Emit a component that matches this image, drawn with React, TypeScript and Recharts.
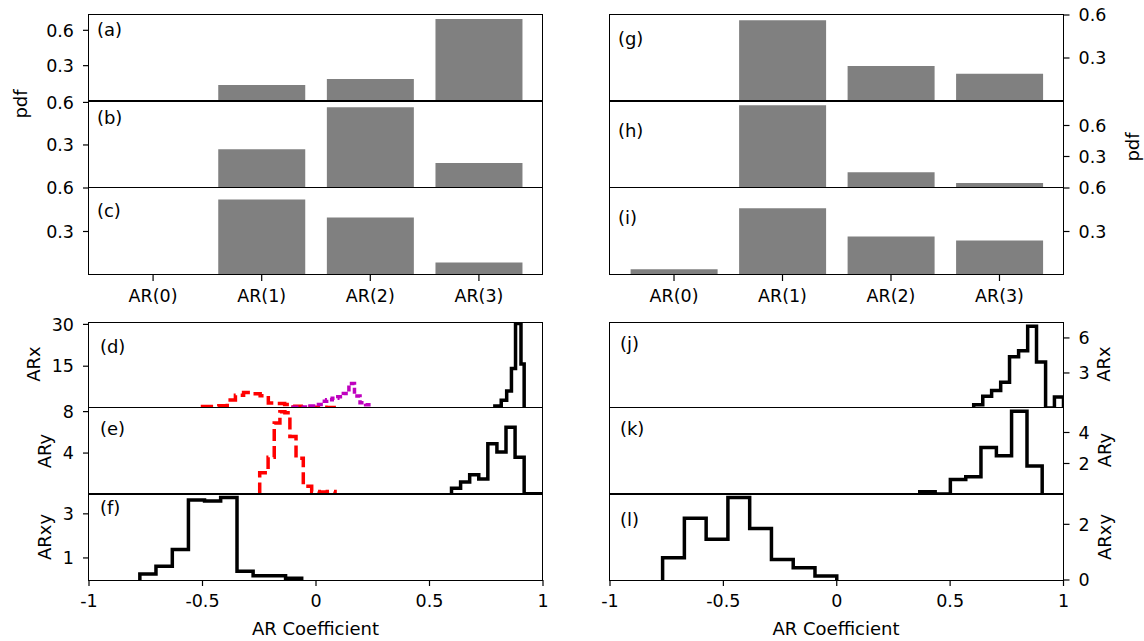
import React from 'react';
import { BarChart, Bar, LineChart, Line, XAxis, YAxis } from 'recharts';

const FONT = "'DejaVu Sans', sans-serif";
const TICK_FS = 17.5;
const LABEL_FS = 18;

// ---------------- data ----------------
const categories = ['AR(0)', 'AR(1)', 'AR(2)', 'AR(3)'];
const pdfA = [0, 0.136, 0.187, 0.696];
const pdfB = [0, 0.269, 0.566, 0.173];
const pdfC = [0, 0.52, 0.397, 0.086];
const pdfG = [0, 0.563, 0.244, 0.19];
const pdfH = [0, 0.796, 0.147, 0.044];
const pdfI = [0.04, 0.461, 0.266, 0.238];
const pdfTicks = [0.3, 0.6];

const coefTicks = [-1, -0.5, 0, 0.5, 1];

// (d) ARx, left
const dBlackEdges = [0.788, 0.816, 0.84, 0.861, 0.879, 0.903, 0.917];
const dBlackVals = [0.7, 2.8, 6.1, 14.2, 30.3, 15.8];
const dRedEdges = [-0.5, -0.464, -0.428, -0.391, -0.355, -0.319, -0.283, -0.246, -0.21, -0.174, -0.138, -0.101, -0.065, -0.029, 0.007, 0.044, 0.08];
const dRedVals = [0.5, 0.5, 0.8, 2.9, 4.6, 5.6, 5.1, 4.4, 1.8, 1.6, 1.3, 0.6, 0.4, 0.3, 0.3, 0.2];
const dMagEdges = [-0.1, -0.0755, -0.051, -0.0265, -0.002, 0.0225, 0.047, 0.0715, 0.096, 0.1205, 0.145, 0.1695, 0.194, 0.2185, 0.243];
const dMagVals = [0.3, 0.3, 0.4, 0.7, 1.3, 2.4, 3.0, 3.5, 4.0, 5.2, 8.8, 4.3, 1.9, 1.2];
const dTicks = [15, 30];

// (e) ARy, left
const eBlackEdges = [0.597, 0.637, 0.677, 0.717, 0.757, 0.797, 0.837, 0.877, 0.917, 0.957, 0.997, 1.037];
const eBlackVals = [0.6, 1.2, 1.9, 1.5, 4.9, 4.1, 6.5, 3.6, 0.08, 0.08, 0.08];
const eRedEdges = [-0.248, -0.211, -0.184, -0.159, -0.137, -0.115, -0.088, -0.056, -0.019, 0.014, 0.05, 0.084];
const eRedVals = [2.1, 3.6, 6.9, 8.0, 7.9, 5.6, 3.5, 0.8, 0.3, 0.25, 0.3];
const eTicks = [4, 8];

// (f) ARxy, left
const fEdges = [-0.776, -0.705, -0.633, -0.562, -0.491, -0.42, -0.348, -0.277, -0.206, -0.134, -0.063];
const fVals = [0.27, 0.62, 1.38, 3.63, 3.58, 3.74, 0.4, 0.19, 0.19, 0.08];
const fTicks = [1, 3];

// (j) ARx, right
const jEdges = [0.604, 0.644, 0.683, 0.723, 0.762, 0.802, 0.842, 0.881, 0.921, 0.96, 1.0];
const jVals = [0.28, 1.0, 1.5, 2.2, 4.4, 4.9, 7.0, 3.94, 0, 0.94];
const jTicks = [3, 6];

// (k) ARy, right
const kEdges = [0.366, 0.434, 0.501, 0.569, 0.636, 0.704, 0.771, 0.839, 0.906];
const kVals = [0.17, 0.03, 0.97, 1.15, 3.03, 2.5, 5.37, 1.84];
const kTicks = [2, 4];

// (l) ARxy, right
const lEdges = [-0.768, -0.672, -0.576, -0.48, -0.384, -0.288, -0.192, -0.096, 0.0];
const lVals = [0.8, 2.22, 1.46, 2.96, 1.85, 0.74, 0.44, 0.14];
const lTicks = [0, 2];

// ---------------- layout ----------------
type Col = 'L' | 'R';
const COLS: Record<Col, { x: number; w: number }> = {
  L: { x: 88.5, w: 454 },
  R: { x: 609.5, w: 453.5 },
};
const TOP_ROWS = [
  { y: 15, h: 86 },
  { y: 101, h: 86.5 },
  { y: 187.5, h: 87 },
];
const BOT_ROWS = [
  { y: 322.5, h: 85 },
  { y: 407.5, h: 86.5 },
  { y: 494, h: 86 },
];

const PAD_L = 80;
const PAD_R = 80;
const PAD_T = 22;
const PAD_B = 48;
const YW = 70;
const XH = 40;

const TICK_SIZE = 6;
const TICK_MARGIN = 9;
const LINE_W = 3.5;

function margins(col: Col) {
  return col === 'L'
    ? { top: PAD_T, bottom: PAD_B - XH, left: PAD_L - YW, right: PAD_R }
    : { top: PAD_T, bottom: PAD_B - XH, left: PAD_L, right: PAD_R - YW };
}

const tickStyle = { fill: '#000', fontSize: TICK_FS, fontFamily: FONT };
const tickLineStyle = { stroke: '#000', strokeWidth: 1.2 };

function Wrap({ x, y, w, h, children }: any) {
  return (
    <div
      style={{
        position: 'absolute',
        left: x - PAD_L,
        top: y - PAD_T,
        width: w + PAD_L + PAD_R,
        height: h + PAD_T + PAD_B,
      }}
    >
      {children}
    </div>
  );
}

function stepPoints(edges: number[], vals: number[]) {
  const pts: { x: number; y: number }[] = [{ x: edges[0], y: 0 }];
  vals.forEach((v, i) => pts.push({ x: edges[i], y: v }));
  pts.push({ x: edges[edges.length - 1], y: 0 });
  return pts;
}

function BarPanel({ col, row, values, yMax, showX }: { col: Col; row: number; values: number[]; yMax: number; showX?: boolean }) {
  const c = COLS[col];
  const r = TOP_ROWS[row];
  const data = categories.map((cat, i) => ({ cat, v: values[i] }));
  // matplotlib xlim [-0.59, 3.59] -> 4.18 units
  const unit = c.w / 4.18;
  const pad = 0.09 * unit;
  return (
    <Wrap x={c.x} y={r.y} w={c.w} h={r.h}>
      <BarChart width={c.w + PAD_L + PAD_R} height={r.h + PAD_T + PAD_B} data={data} margin={margins(col)} barCategoryGap="10%">
        <XAxis
          dataKey="cat"
          type="category"
          padding={{ left: pad, right: pad }}
          height={XH}
          axisLine={false}
          tickLine={showX ? tickLineStyle : false}
          tick={showX ? tickStyle : false}
          tickSize={TICK_SIZE}
          tickMargin={TICK_MARGIN}
          interval={0}
        />
        <YAxis
          type="number"
          orientation={col === 'L' ? 'left' : 'right'}
          domain={[0, yMax]}
          ticks={pdfTicks}
          allowDataOverflow
          width={YW}
          axisLine={false}
          tickLine={tickLineStyle}
          tick={tickStyle}
          tickSize={TICK_SIZE}
          tickMargin={TICK_MARGIN}
          interval={0}
        />
        <Bar dataKey="v" fill="#808080" isAnimationActive={false} />
      </BarChart>
    </Wrap>
  );
}

type Series = { pts: { x: number; y: number }[]; color: string; dash?: string; key: string };

function HistPanel({ col, row, series, yMax, yTicks, showX }: { col: Col; row: number; series: Series[]; yMax: number; yTicks: number[]; showX?: boolean }) {
  const c = COLS[col];
  const r = BOT_ROWS[row];
  return (
    <Wrap x={c.x} y={r.y} w={c.w} h={r.h}>
      <LineChart width={c.w + PAD_L + PAD_R} height={r.h + PAD_T + PAD_B} margin={margins(col)}>
        <XAxis
          dataKey="x"
          type="number"
          domain={[-1, 1]}
          ticks={coefTicks}
          allowDataOverflow
          height={XH}
          axisLine={false}
          tickLine={showX ? tickLineStyle : false}
          tick={showX ? tickStyle : false}
          tickSize={TICK_SIZE}
          tickMargin={TICK_MARGIN}
          interval={0}
        />
        <YAxis
          type="number"
          orientation={col === 'L' ? 'left' : 'right'}
          domain={[0, yMax]}
          ticks={yTicks}
          allowDataOverflow
          width={YW}
          axisLine={false}
          tickLine={tickLineStyle}
          tick={tickStyle}
          tickSize={TICK_SIZE}
          tickMargin={TICK_MARGIN}
          interval={0}
        />
        {series.map((s) => (
          <Line
            key={s.key}
            data={s.pts}
            dataKey="y"
            type="stepAfter"
            stroke={s.color}
            strokeWidth={LINE_W}
            strokeDasharray={s.dash}
            strokeLinejoin="miter"
            dot={false}
            activeDot={false}
            isAnimationActive={false}
          />
        ))}
      </LineChart>
    </Wrap>
  );
}

function Frame({ col, r }: { col: Col; r: { y: number; h: number } }) {
  const c = COLS[col];
  return (
    <div
      style={{
        position: 'absolute',
        left: c.x - 0.75,
        top: r.y - 0.75,
        width: c.w + 1.5,
        height: r.h + 1.5,
        border: '1.5px solid #000',
        boxSizing: 'border-box',
        pointerEvents: 'none',
      }}
    />
  );
}

// text whose visible centre (parentheses) is at cy, starting at visible x
function Letter({ x, cy, text }: { x: number; cy: number; text: string }) {
  return (
    <div
      style={{
        position: 'absolute',
        left: x - 1.6,
        top: cy - 9.5,
        fontSize: LABEL_FS,
        lineHeight: `${LABEL_FS}px`,
        whiteSpace: 'nowrap',
        color: '#000',
      }}
    >
      {text}
    </div>
  );
}

function XLabel({ cx, baseline, text }: { cx: number; baseline: number; text: string }) {
  return (
    <div
      style={{
        position: 'absolute',
        left: cx,
        top: baseline - 15.2,
        transform: 'translateX(-50%)',
        fontSize: LABEL_FS,
        lineHeight: `${LABEL_FS}px`,
        whiteSpace: 'nowrap',
        color: '#000',
      }}
    >
      {text}
    </div>
  );
}

function YLabel({ cx, cy, text }: { cx: number; cy: number; text: string }) {
  return (
    <div
      style={{
        position: 'absolute',
        left: cx,
        top: cy,
        transform: 'translate(-50%, -50%) rotate(-90deg)',
        fontSize: LABEL_FS,
        lineHeight: `${LABEL_FS}px`,
        whiteSpace: 'nowrap',
        color: '#000',
      }}
    >
      {text}
    </div>
  );
}

const RED = '#ff0000';
const MAG = '#bf00bf';
const BLK = '#000000';
const RED_DASH = '12 5';
const MAG_DASH = '6 3';

export default function App() {
  const dSeries: Series[] = [
    { key: 'dRed', pts: stepPoints(dRedEdges, dRedVals), color: RED, dash: RED_DASH },
    { key: 'dMag', pts: stepPoints(dMagEdges, dMagVals), color: MAG, dash: MAG_DASH },
    { key: 'dBlk', pts: stepPoints(dBlackEdges, dBlackVals), color: BLK },
  ];
  const eSeries: Series[] = [
    { key: 'eRed', pts: stepPoints(eRedEdges, eRedVals), color: RED, dash: RED_DASH },
    { key: 'eBlk', pts: stepPoints(eBlackEdges, eBlackVals), color: BLK },
  ];
  const fSeries: Series[] = [{ key: 'f', pts: stepPoints(fEdges, fVals), color: BLK }];
  const jSeries: Series[] = [{ key: 'j', pts: stepPoints(jEdges, jVals), color: BLK }];
  const kSeries: Series[] = [{ key: 'k', pts: stepPoints(kEdges, kVals), color: BLK }];
  const lSeries: Series[] = [{ key: 'l', pts: stepPoints(lEdges, lVals), color: BLK }];

  return (
    <div
      style={{
        position: 'absolute',
        left: 0,
        top: 0,
        width: 1144,
        height: 641,
        background: '#fff',
        fontFamily: FONT,
        overflow: 'hidden',
      }}
    >
      <BarPanel col="L" row={0} values={pdfA} yMax={0.73} />
      <BarPanel col="L" row={1} values={pdfB} yMax={0.61} />
      <BarPanel col="L" row={2} values={pdfC} yMax={0.6} showX />
      <BarPanel col="R" row={0} values={pdfG} yMax={0.6} />
      <BarPanel col="R" row={1} values={pdfH} yMax={0.837} />
      <BarPanel col="R" row={2} values={pdfI} yMax={0.6} showX />

      <HistPanel col="L" row={0} series={dSeries} yMax={30.5} yTicks={dTicks} />
      <HistPanel col="L" row={1} series={eSeries} yMax={8.35} yTicks={eTicks} />
      <HistPanel col="L" row={2} series={fSeries} yMax={3.9} yTicks={fTicks} showX />
      <HistPanel col="R" row={0} series={jSeries} yMax={7.28} yTicks={jTicks} />
      <HistPanel col="R" row={1} series={kSeries} yMax={5.58} yTicks={kTicks} />
      <HistPanel col="R" row={2} series={lSeries} yMax={3.09} yTicks={lTicks} showX />

      {TOP_ROWS.map((r, i) => (
        <React.Fragment key={'tf' + i}>
          <Frame col="L" r={r} />
          <Frame col="R" r={r} />
        </React.Fragment>
      ))}
      {BOT_ROWS.map((r, i) => (
        <React.Fragment key={'bf' + i}>
          <Frame col="L" r={r} />
          <Frame col="R" r={r} />
        </React.Fragment>
      ))}

      <Letter x={98.5} cy={30} text="(a)" />
      <Letter x={98.5} cy={118.3} text="(b)" />
      <Letter x={98.5} cy={211.7} text="(c)" />
      <Letter x={101.5} cy={347.5} text="(d)" />
      <Letter x={101.5} cy={429} text="(e)" />
      <Letter x={101.5} cy={508.5} text="(f)" />
      <Letter x={619.5} cy={39.2} text="(g)" />
      <Letter x={619.5} cy={131.7} text="(h)" />
      <Letter x={619.5} cy={218.3} text="(i)" />
      <Letter x={621.5} cy={344} text="(j)" />
      <Letter x={621.5} cy={429} text="(k)" />
      <Letter x={621.5} cy={520} text="(l)" />

      <YLabel cx={20.5} cy={104} text="pdf" />
      <YLabel cx={1133} cy={147} text="pdf" />
      <YLabel cx={34} cy={364} text="ARx" />
      <YLabel cx={45} cy={451} text="ARy" />
      <YLabel cx={45} cy={537} text="ARxy" />
      <YLabel cx={1104} cy={364} text="ARx" />
      <YLabel cx={1105} cy={450} text="ARy" />
      <YLabel cx={1105} cy={537} text="ARxy" />

      <XLabel cx={315.5} baseline={635} text="AR Coefficient" />
      <XLabel cx={836} baseline={635} text="AR Coefficient" />
    </div>
  );
}
